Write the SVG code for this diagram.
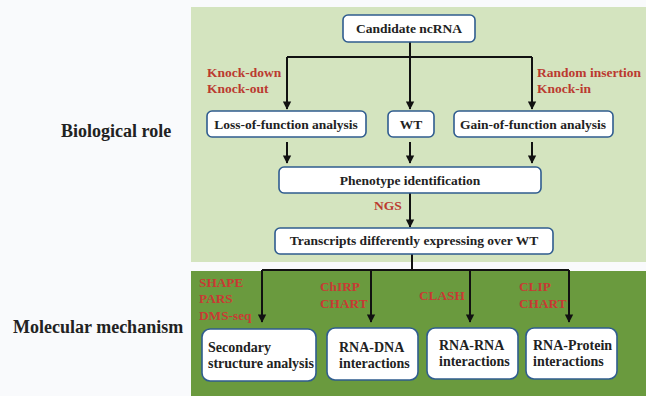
<svg xmlns="http://www.w3.org/2000/svg" width="646" height="396" viewBox="0 0 646 396">
<defs>
<marker id="ah" viewBox="0 0 10 10" refX="9" refY="5" markerWidth="4.2" markerHeight="4.5" orient="auto" markerUnits="strokeWidth">
<path d="M0,0 L10,5 L0,10 z" fill="#111"/>
</marker>
<style>
.box{fill:#fff;stroke:#2f5c8f;stroke-width:1.6}
.t{font-family:"Liberation Serif","Times New Roman",serif;font-weight:bold;fill:#222}
.bt{font-size:13.5px;text-anchor:middle}
.mt{font-size:14px}
.side{font-size:18px}
.red{font-family:"Liberation Serif","Times New Roman",serif;font-weight:bold;fill:#bb3a30;font-size:13.5px}
.red2{font-family:"Liberation Serif","Times New Roman",serif;font-weight:bold;fill:#c83a34;font-size:13.3px}
.ln{fill:none;stroke:#111;stroke-width:2}
.ar{fill:none;stroke:#111;stroke-width:2;marker-end:url(#ah)}
</style>
</defs>
<rect x="0" y="0" width="646" height="396" fill="#f9fafc"/>
<rect id="panel-bio" x="191" y="7" width="455" height="255" fill="#d4e4bf"/>
<rect id="panel-mol" x="191" y="271" width="455" height="125" fill="#6a9a3e"/>
<text class="t side" x="61" y="137">Biological role</text>
<text class="t side" x="13" y="333">Molecular mechanism</text>

<g id="connectors">
<path class="ln" d="M410,42 V57 M287,57 H532"/>
<path class="ar" d="M287,57 V109"/>
<path class="ar" d="M410,57 V109"/>
<path class="ar" d="M532,57 V109"/>
<path class="ar" d="M287,142 V163"/>
<path class="ar" d="M410,142 V163"/>
<path class="ar" d="M532,142 V163"/>
<path class="ar" d="M410,193 V227"/>
<path class="ln" d="M412,254 V270 M262,270 H569"/>
<path class="ar" d="M262,270 V322"/>
<path class="ar" d="M371,270 V322"/>
<path class="ar" d="M470,270 V322"/>
<path class="ar" d="M569,270 V322"/>
</g>

<g id="labels">
<text class="red" x="207" y="77">Knock-down</text>
<text class="red" x="207" y="93">Knock-out</text>
<text class="red" x="537" y="77">Random insertion</text>
<text class="red" x="537" y="93">Knock-in</text>
<text class="red" x="374" y="210">NGS</text>
<text class="red2" x="199" y="287">SHAPE</text>
<text class="red2" x="199" y="303">PARS</text>
<text class="red2" x="199" y="320">DMS-seq</text>
<text class="red2" x="320" y="291">ChIRP</text>
<text class="red2" x="320" y="308">CHART</text>
<text class="red2" x="419" y="300">CLASH</text>
<text class="red2" x="519" y="291">CLIP</text>
<text class="red2" x="519" y="308">CHART</text>
</g>

<g id="candidate">
<rect class="box" x="343" y="15" width="132" height="27" rx="5"/>
<text class="t bt" x="409" y="33">Candidate ncRNA</text>
</g>
<g id="loss">
<rect class="box" x="207" y="111" width="159" height="26" rx="5"/>
<text class="t bt" x="286" y="129">Loss-of-function analysis</text>
</g>
<g id="wt">
<rect class="box" x="388" y="111" width="46" height="26" rx="5"/>
<text class="t bt" x="411" y="129">WT</text>
</g>
<g id="gain">
<rect class="box" x="454" y="111" width="159" height="26" rx="5"/>
<text class="t bt" x="533" y="129">Gain-of-function analysis</text>
</g>
<g id="phenotype">
<rect class="box" x="279" y="167" width="262" height="26" rx="5"/>
<text class="t bt" x="410" y="185">Phenotype identification</text>
</g>
<g id="transcripts">
<rect class="box" x="275" y="228" width="278" height="26" rx="5"/>
<text class="t bt" x="414" y="245">Transcripts differently expressing over WT</text>
</g>
<g id="secondary">
<rect class="box" x="202" y="329" width="114" height="52" rx="8"/>
<text class="t mt" x="208" y="352">Secondary</text>
<text class="t mt" x="208" y="368">structure analysis</text>
</g>
<g id="rnadna">
<rect class="box" x="327" y="328" width="91" height="52" rx="8"/>
<text class="t mt" x="339" y="352">RNA-DNA</text>
<text class="t mt" x="339" y="368">interactions</text>
</g>
<g id="rnarna">
<rect class="box" x="427" y="328" width="91" height="51" rx="8"/>
<text class="t mt" x="439" y="350">RNA-RNA</text>
<text class="t mt" x="439" y="366">interactions</text>
</g>
<g id="rnaprotein">
<rect class="box" x="526" y="328" width="91" height="51" rx="8"/>
<text class="t mt" x="533" y="350">RNA-Protein</text>
<text class="t mt" x="533" y="366">interactions</text>
</g>
</svg>
